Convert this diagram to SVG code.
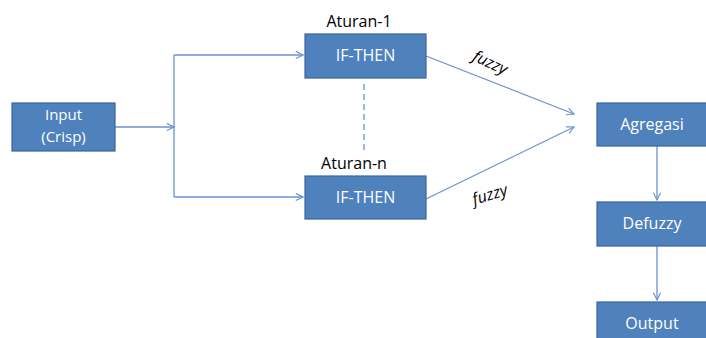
<svg xmlns="http://www.w3.org/2000/svg" width="706" height="338" viewBox="0 0 706 338">
  <style>
    .box { fill: #4F81BD; stroke: #3A64A0; stroke-width: 1.2; }
    .lbl { fill: #ffffff; font-family: "Open Sans", "Liberation Sans", sans-serif; font-size: 16px; text-anchor: middle; }
    .sm { font-size: 15px; }
    .cap { fill: #000000; font-family: "Open Sans", "Liberation Sans", sans-serif; font-size: 16px; text-anchor: middle; }
    .fz { fill: #000000; font-family: "Open Sans", "Liberation Sans", sans-serif; font-size: 16px; font-style: italic; text-anchor: middle; }
    .ln { fill: none; stroke: #6B93CF; stroke-width: 1.3; }
  </style>
  <defs>
    <marker id="arr" viewBox="0 0 10 10" refX="9" refY="5" markerWidth="9" markerHeight="9" markerUnits="userSpaceOnUse" orient="auto">
      <path d="M1,1 L9,5 L1,9" fill="none" stroke="#6B93CF" stroke-width="1.3"/>
    </marker>
  </defs>
  <rect width="706" height="338" fill="#ffffff"/>

  <g id="connectors">
    <path class="ln" d="M115,127 L174,127" marker-end="url(#arr)"/>
    <path class="ln" d="M174,55 L174,197"/>
    <path class="ln" d="M174,55 L303,55" marker-end="url(#arr)"/>
    <path class="ln" d="M174,197 L303,197" marker-end="url(#arr)"/>
    <path class="ln" d="M364,84 L364,150" stroke-dasharray="6,4"/>
    <path class="ln" d="M426,56 L574,114" marker-end="url(#arr)"/>
    <path class="ln" d="M426,199 L574,127" marker-end="url(#arr)"/>
    <path class="ln" d="M657,146 L657,200" marker-end="url(#arr)"/>
    <path class="ln" d="M657,246 L657,300" marker-end="url(#arr)"/>
  </g>

  <g id="input">
    <rect class="box" x="12" y="103" width="103" height="48"/>
    <text class="lbl sm" x="63.5" y="120">Input</text>
    <text class="lbl sm" x="63.5" y="142">(Crisp)</text>
  </g>

  <g id="rule-1">
    <text class="cap" x="359" y="27">Aturan-1</text>
    <rect class="box" x="305" y="34" width="121" height="44"/>
    <text class="lbl" x="365.5" y="61">IF-THEN</text>
  </g>

  <g id="rule-n">
    <text class="cap" x="354" y="169">Aturan-n</text>
    <rect class="box" x="305" y="176" width="121" height="43"/>
    <text class="lbl" x="365.5" y="203">IF-THEN</text>
  </g>

  <g id="fuzzy-labels">
    <text class="fz" transform="translate(490,63) rotate(25)" y="5">fuzzy</text>
    <text class="fz" transform="translate(490,195) rotate(-17)" y="5">fuzzy</text>
  </g>

  <g id="agregasi">
    <rect class="box" x="597" y="103" width="112" height="43"/>
    <text class="lbl" x="652" y="130">Agregasi</text>
  </g>

  <g id="defuzzy">
    <rect class="box" x="597" y="202" width="112" height="44"/>
    <text class="lbl" x="652" y="229">Defuzzy</text>
  </g>

  <g id="output">
    <rect class="box" x="597" y="302" width="112" height="44"/>
    <text class="lbl" x="652" y="329">Output</text>
  </g>
</svg>
